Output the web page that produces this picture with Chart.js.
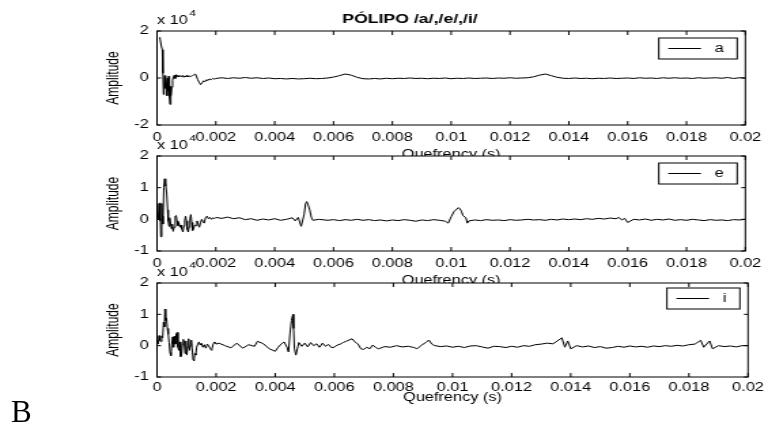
<!DOCTYPE html>
<html>
<head>
<meta charset="utf-8">
<script src="https://cdn.jsdelivr.net/npm/chart.js@4.4.0/dist/chart.umd.min.js"></script>
<style>
  body { margin: 0; background: #fff; }
  #fig { position: relative; width: 768px; height: 427px; overflow: hidden; }
  #fig canvas { position: absolute; left: 0; top: 0; }
  #panel { position: absolute; left: 11px; top: 396px; font: 31px "Liberation Serif", "Times New Roman", serif; line-height: 1; color: #000; }
</style>
</head>
<body>
<div id="fig">
  <canvas id="plotA" width="565" height="427" style="width:768px;height:427px"></canvas>
  <canvas id="plotE" width="565" height="427" style="width:768px;height:427px"></canvas>
  <canvas id="plotI" width="565" height="427" style="width:768px;height:427px"></canvas>
  <div id="panel">B</div>
</div>
<script>
// tick labels
const quefTicks = ['0', '0.002', '0.004', '0.006', '0.008', '0.01', '0.012', '0.014', '0.016', '0.018', '0.02'];
const ampTicksA = ['-2', '0', '2'];
const ampTicksEI = ['-1', '0', '1', '2'];
const vowels = ['a', 'e', 'i'];

// cepstrum per vowel: [quefrency (s), amplitude (x 10^4)]
const vowelA = [
  [0.00007, 1.72], [0.00010, 1.70], [0.00014, 1.40], [0.00018, 1.20], [0.00020, 0.20],
  [0.00022, -0.70], [0.00024, -0.20], [0.00026, 0.10], [0.00028, -0.45], [0.00030, 0.05],
  [0.00032, -0.20], [0.00034, -0.75], [0.00036, 0.00], [0.00038, -0.55], [0.00040, 0.08],
  [0.00042, -0.80], [0.00044, -1.12], [0.00046, -0.35], [0.00048, -0.75], [0.00050, -0.40],
  [0.00053, -0.10], [0.00056, 0.06], [0.00059, 0.12], [0.00062, -0.02], [0.00065, 0.14],
  [0.00068, 0.06], [0.00071, 0.12], [0.00075, 0.04], [0.00079, 0.10], [0.00083, 0.05],
  [0.00087, 0.11], [0.00091, 0.03], [0.00095, 0.09], [0.00099, 0.05], [0.00103, 0.12],
  [0.00107, 0.04], [0.00111, 0.09], [0.00115, 0.06], [0.00120, 0.10], [0.00125, 0.13],
  [0.00130, 0.17], [0.00134, 0.08], [0.00138, -0.06], [0.00143, -0.18], [0.00148, -0.28],
  [0.00153, -0.21], [0.00158, -0.12], [0.00163, -0.16], [0.00168, -0.07], [0.00173, -0.11],
  [0.00178, -0.04], [0.00184, -0.07], [0.00190, -0.02], [0.00196, -0.05], [0.0020, -0.02],
  [0.0022, 0.01], [0.0024, -0.02], [0.0026, 0.01], [0.0028, -0.01], [0.0030, 0.02],
  [0.0032, -0.01], [0.0034, 0.01], [0.0036, -0.02], [0.0038, 0.00], [0.0040, -0.03],
  [0.0042, -0.02], [0.0044, -0.04], [0.0046, -0.02], [0.0048, -0.04], [0.0050, -0.03],
  [0.0052, -0.01], [0.0054, -0.03], [0.0056, -0.02], [0.0058, 0.00], [0.0060, 0.04],
  [0.0062, 0.10], [0.0064, 0.17], [0.0066, 0.12], [0.0068, 0.03], [0.0070, -0.03],
  [0.0072, -0.04], [0.0074, -0.02], [0.0076, -0.04], [0.0078, -0.01], [0.0080, -0.03],
  [0.0082, -0.01], [0.0084, -0.02], [0.0086, 0.00], [0.0088, -0.02], [0.0090, -0.01],
  [0.0092, -0.03], [0.0094, -0.01], [0.0096, -0.02], [0.0098, 0.00], [0.0100, -0.03],
  [0.0102, -0.01], [0.0104, -0.02], [0.0106, 0.00], [0.0108, -0.02], [0.0110, -0.01],
  [0.0112, 0.00], [0.0114, -0.02], [0.0116, 0.00], [0.0118, -0.01], [0.0120, 0.01],
  [0.0122, -0.01], [0.0124, 0.00], [0.0126, 0.01], [0.0128, 0.05], [0.0130, 0.12],
  [0.0132, 0.17], [0.0134, 0.10], [0.0136, 0.03], [0.0138, -0.01], [0.0140, -0.02],
  [0.0142, 0.00], [0.0144, -0.02], [0.0146, -0.01], [0.0148, -0.03], [0.0150, -0.01],
  [0.0152, -0.02], [0.0154, 0.00], [0.0156, -0.02], [0.0158, -0.01], [0.0160, 0.00],
  [0.0162, -0.02], [0.0164, 0.01], [0.0166, -0.01], [0.0168, 0.00], [0.0170, -0.02],
  [0.0172, 0.01], [0.0174, -0.01], [0.0176, 0.01], [0.0178, -0.01], [0.0180, 0.00],
  [0.0182, -0.02], [0.0184, 0.01], [0.0186, -0.01], [0.0188, 0.00], [0.0190, 0.01],
  [0.0192, -0.01], [0.0194, 0.02], [0.0196, -0.02], [0.0198, 0.01], [0.0200, 0.00]
];

const vowelE = [
  [0.00004, -0.02], [0.00007, 0.50], [0.00009, -0.05], [0.00011, 0.52], [0.00013, -0.55],
  [0.00016, 0.50], [0.00018, 0.10], [0.00020, -0.15], [0.00023, 1.00], [0.00026, 1.28],
  [0.00028, 1.05], [0.00030, 1.15], [0.00033, 0.80], [0.00036, 0.30], [0.00038, -0.05],
  [0.00041, -0.22], [0.00043, 0.05], [0.00046, -0.12], [0.00049, -0.30], [0.00052, -0.15],
  [0.00055, -0.38], [0.00058, -0.25], [0.00062, 0.10], [0.00065, 0.12], [0.00068, -0.05],
  [0.00071, -0.20], [0.00074, -0.10], [0.00078, -0.25], [0.00081, -0.18], [0.00084, -0.30],
  [0.00088, -0.40], [0.00091, -0.22], [0.00094, -0.05], [0.00097, 0.10], [0.00100, -0.05],
  [0.00103, -0.32], [0.00106, -0.40], [0.00109, -0.25], [0.00112, 0.02], [0.00115, 0.15],
  [0.00118, -0.10], [0.00121, -0.35], [0.00124, -0.30], [0.00128, -0.18], [0.00132, -0.20],
  [0.00136, -0.05], [0.00140, -0.15], [0.00144, -0.25], [0.00148, -0.10], [0.00152, 0.00],
  [0.00156, -0.08], [0.00160, -0.12], [0.00165, 0.05], [0.00170, 0.10], [0.00175, 0.02],
  [0.00180, 0.06], [0.00185, 0.00], [0.00190, 0.05], [0.00195, 0.02], [0.0020, 0.06],
  [0.0022, 0.03], [0.0024, 0.07], [0.0026, 0.02], [0.0028, 0.05], [0.0030, -0.01],
  [0.0032, 0.02], [0.0034, -0.03], [0.0036, 0.01], [0.0038, -0.02], [0.0040, 0.02],
  [0.0042, -0.03], [0.0044, 0.00], [0.0046, 0.05], [0.0047, -0.05], [0.0048, 0.06],
  [0.0049, -0.22], [0.00500, 0.15], [0.00505, 0.50], [0.00509, 0.56], [0.00514, 0.45],
  [0.00519, 0.30], [0.00525, 0.05], [0.0053, -0.03], [0.0055, 0.00], [0.0058, -0.03],
  [0.0060, -0.01], [0.0062, -0.04], [0.0064, -0.01], [0.0066, -0.03], [0.0068, 0.00],
  [0.0070, -0.03], [0.0072, -0.01], [0.0074, -0.04], [0.0076, -0.02], [0.0078, -0.05],
  [0.0080, -0.02], [0.0082, -0.04], [0.0084, -0.01], [0.0086, -0.03], [0.0088, -0.06],
  [0.0090, -0.02], [0.0092, -0.04], [0.0094, -0.01], [0.0096, -0.03], [0.0098, -0.06],
  [0.0099, -0.12], [0.0100, 0.08], [0.0101, 0.25], [0.01025, 0.37], [0.0103, 0.33],
  [0.01035, 0.25], [0.0104, 0.12], [0.0105, 0.05], [0.01055, -0.12], [0.0106, -0.05],
  [0.0108, -0.02], [0.0110, -0.04], [0.0112, -0.01], [0.0114, -0.03], [0.0116, -0.02],
  [0.0118, -0.04], [0.0120, -0.01], [0.0122, -0.03], [0.0124, -0.02], [0.0126, 0.00],
  [0.0128, -0.02], [0.0130, -0.01], [0.0132, -0.03], [0.0134, 0.00], [0.0136, -0.02],
  [0.0138, 0.01], [0.0140, -0.01], [0.0142, 0.01], [0.0144, -0.01], [0.0146, 0.02],
  [0.0148, 0.00], [0.0150, 0.03], [0.0152, 0.01], [0.0154, 0.04], [0.0156, 0.02],
  [0.0157, 0.06], [0.0158, -0.02], [0.0159, 0.03], [0.0160, -0.10], [0.0162, 0.00],
  [0.0164, -0.02], [0.0166, 0.01], [0.0168, -0.03], [0.0170, 0.00], [0.0172, -0.02],
  [0.0174, 0.01], [0.0176, -0.03], [0.0178, -0.01], [0.0180, -0.03], [0.0182, 0.00],
  [0.0184, -0.02], [0.0186, -0.04], [0.0188, -0.01], [0.0190, -0.03], [0.0192, -0.02],
  [0.0194, -0.04], [0.0196, -0.01], [0.0198, -0.02], [0.0200, 0.00]
];

const vowelI = [
  [0.00004, 0.05], [0.00007, 0.32], [0.00010, 0.15], [0.00013, 0.13], [0.00016, 0.30],
  [0.00019, 0.25], [0.00022, 0.75], [0.00025, 0.60], [0.00027, 1.17], [0.00029, 0.80],
  [0.00032, 0.88], [0.00035, 0.55], [0.00038, 0.37], [0.00041, 0.10], [0.00044, -0.22],
  [0.00047, -0.32], [0.00050, 0.05], [0.00053, 0.28], [0.00056, -0.05], [0.00059, 0.30],
  [0.00062, 0.05], [0.00065, 0.38], [0.00068, 0.42], [0.00071, -0.05], [0.00074, -0.15],
  [0.00077, 0.12], [0.00080, -0.35], [0.00083, -0.30], [0.00086, 0.05], [0.00089, 0.20],
  [0.00092, 0.08], [0.00095, -0.25], [0.00098, 0.15], [0.00101, -0.30], [0.00104, -0.05],
  [0.00107, 0.22], [0.00110, -0.15], [0.00113, 0.00], [0.00116, 0.18], [0.00119, -0.10],
  [0.00122, -0.45], [0.00125, -0.48], [0.00128, -0.25], [0.00131, -0.30], [0.00134, -0.05],
  [0.00138, 0.05], [0.00142, 0.12], [0.00146, 0.02], [0.00150, 0.08], [0.00155, -0.05],
  [0.00160, 0.03], [0.00165, -0.08], [0.00170, 0.05], [0.00175, 0.00], [0.00180, -0.10],
  [0.00185, -0.15], [0.00190, 0.05], [0.00195, 0.12], [0.0020, 0.05],
  [0.0021, 0.08], [0.0023, 0.00], [0.0025, -0.07], [0.0027, 0.08], [0.0029, -0.08],
  [0.0031, 0.03], [0.0033, -0.02], [0.0034, 0.14], [0.0036, 0.06], [0.0038, -0.10],
  [0.0040, -0.18], [0.0041, -0.05], [0.0042, 0.05], [0.0043, 0.12], [0.0044, -0.05],
  [0.00445, -0.20], [0.0045, 0.40], [0.00455, 0.80], [0.0046, 1.00], [0.00462, 0.55],
  [0.00465, -0.10], [0.0047, -0.30], [0.0048, 0.10], [0.0049, -0.02], [0.0050, 0.08],
  [0.0051, -0.04], [0.0052, 0.10], [0.0053, 0.00], [0.0054, 0.06], [0.0055, -0.05],
  [0.0056, 0.08], [0.0057, -0.02], [0.0058, 0.04], [0.0059, -0.06], [0.0060, -0.05],
  [0.0061, 0.02], [0.0062, 0.05], [0.0063, 0.10], [0.0064, 0.14], [0.0066, 0.22],
  [0.0067, 0.12], [0.0068, 0.05], [0.0069, -0.10], [0.0070, -0.12], [0.0071, -0.05],
  [0.0072, -0.10], [0.0073, 0.02], [0.0074, -0.06], [0.0075, -0.10], [0.0077, -0.03],
  [0.0079, -0.05], [0.0081, 0.00], [0.0083, -0.04], [0.0085, -0.02], [0.0087, -0.06],
  [0.0088, -0.10], [0.0090, 0.05], [0.0091, 0.10], [0.0092, 0.18], [0.0093, 0.05],
  [0.0094, 0.00], [0.0096, -0.03], [0.0098, -0.01], [0.0100, -0.05], [0.0102, -0.02],
  [0.0104, -0.06], [0.0106, -0.01], [0.0108, 0.00], [0.0110, -0.04], [0.0112, -0.08],
  [0.0114, -0.02], [0.0116, -0.03], [0.0118, -0.06], [0.0120, -0.02], [0.0122, -0.05],
  [0.0124, 0.00], [0.0126, -0.02], [0.0128, 0.03], [0.0130, 0.05], [0.0132, 0.08],
  [0.0134, 0.06], [0.0135, 0.12], [0.0137, 0.25], [0.0138, -0.05], [0.0139, 0.15],
  [0.0140, -0.10], [0.0142, 0.00], [0.0144, -0.04], [0.0146, -0.01], [0.0148, -0.06],
  [0.0150, -0.03], [0.0152, -0.08], [0.0154, -0.06], [0.0156, -0.02], [0.0158, -0.05],
  [0.0160, -0.01], [0.0162, -0.04], [0.0164, -0.02], [0.0166, -0.05], [0.0168, -0.01],
  [0.0170, -0.03], [0.0172, 0.00], [0.0174, -0.02], [0.0176, 0.01], [0.0178, -0.01],
  [0.0180, 0.03], [0.0182, 0.05], [0.0184, 0.17], [0.0185, -0.05], [0.0187, 0.15],
  [0.0188, -0.10], [0.0190, 0.00], [0.0192, -0.03], [0.0194, -0.01], [0.0196, -0.04],
  [0.0198, 0.00], [0.0200, 0.00]
];

// canvases are 565 px wide and stretched to 768 px by css
const CW = 565;
const CH = 427;
const FONT = '"Liberation Sans", Arial, Helvetica, sans-serif';
const AX_LEFT = 115.5;
const AX_RIGHT = 550.3;
const PAD_LEFT = 76.3;

// matlab-style box: white face, frame, inward ticks, exponent and legend
const matlabAxes = {
  id: 'matlabAxes',
  beforeDraw(chart) {
    const { ctx, chartArea: a } = chart;
    ctx.save();
    ctx.fillStyle = '#fff';
    ctx.fillRect(a.left, a.top, a.right - a.left, a.bottom - a.top);
    ctx.restore();
  },
  afterDraw(chart, args, opts) {
    const { ctx, chartArea: a, scales: { x, y } } = chart;
    ctx.save();
    ctx.strokeStyle = '#000';
    ctx.lineWidth = 1;
    ctx.strokeRect(a.left, a.top, a.right - a.left, a.bottom - a.top);
    ctx.beginPath();
    x.ticks.forEach(t => {
      const px = x.getPixelForValue(t.value);
      ctx.moveTo(px, a.top); ctx.lineTo(px, a.top + 4);
      ctx.moveTo(px, a.bottom); ctx.lineTo(px, a.bottom - 4);
    });
    y.ticks.forEach(t => {
      const py = y.getPixelForValue(t.value);
      ctx.moveTo(a.left, py); ctx.lineTo(a.left + 3, py);
      ctx.moveTo(a.right, py); ctx.lineTo(a.right - 3, py);
    });
    ctx.stroke();

    // x 10^4 above the axes
    ctx.fillStyle = '#000';
    ctx.textAlign = 'left';
    ctx.textBaseline = 'middle';
    ctx.font = '12px ' + FONT;
    ctx.fillText('x 10', a.left, a.top - 10);
    const w = ctx.measureText('x 10').width;
    ctx.font = '9px ' + FONT;
    ctx.fillText('4', a.left + w + 1, a.top - 17);

    // legend
    const label = chart.data.datasets[0].label;
    ctx.font = '12px ' + FONT;
    const bw = 51 + ctx.measureText(label).width;
    const bh = 21;
    const bx = a.right - 6 - bw;
    const by = a.top + opts.legendTop;
    ctx.fillStyle = '#fff';
    ctx.fillRect(bx, by, bw, bh);
    ctx.strokeRect(bx, by, bw, bh);
    ctx.beginPath();
    ctx.moveTo(bx + 7, by + bh / 2);
    ctx.lineTo(bx + 31, by + bh / 2);
    ctx.stroke();
    ctx.fillStyle = '#000';
    ctx.fillText(label, bx + 41, by + bh / 2);

    if (opts.title) {
      ctx.font = 'bold 13px ' + FONT;
      ctx.textAlign = 'center';
      ctx.fillText(opts.title, 301.6, 19);
    }
    ctx.restore();
  }
};

function makePlot(id, label, points, yMin, yMax, yTicks, box) {
  return new Chart(document.getElementById(id), {
    type: 'line',
    data: {
      datasets: [{
        label: label,
        data: points.map(p => ({ x: p[0], y: p[1] })),
        borderColor: '#000',
        borderWidth: 1,
        pointRadius: 0,
        tension: 0,
        fill: false
      }]
    },
    options: {
      responsive: false,
      animation: false,
      devicePixelRatio: 1,
      layout: {
        padding: { left: PAD_LEFT, right: CW - AX_RIGHT, top: box.top, bottom: CH - box.bottom - box.xh }
      },
      plugins: {
        legend: { display: false },
        tooltip: { enabled: false },
        matlabAxes: { legendTop: box.legendTop, title: box.title }
      },
      scales: {
        x: {
          type: 'linear',
          min: 0,
          max: 0.02,
          grid: { display: false, drawTicks: false },
          border: { display: false },
          ticks: {
            stepSize: 0.002,
            autoSkip: false,
            maxRotation: 0,
            padding: box.tickPad,
            color: '#000',
            font: { family: FONT, size: 12 },
            callback: (v, i) => quefTicks[i]
          },
          title: { display: true, text: 'Quefrency (s)', color: '#000', padding: 0, font: { family: FONT, size: 12 } },
          afterFit: s => { s.height = box.xh; }
        },
        y: {
          min: yMin,
          max: yMax,
          grid: { display: false, drawTicks: false },
          border: { display: false },
          ticks: {
            stepSize: yTicks === ampTicksA ? 2 : 1,
            padding: 6,
            color: '#000',
            font: { family: FONT, size: 12 },
            callback: (v, i) => yTicks[i]
          },
          title: { display: true, text: 'Amplitude', color: '#000', padding: 0, font: { family: FONT, size: 12 } },
          afterFit: s => { s.width = AX_LEFT - PAD_LEFT; }
        }
      }
    },
    plugins: [matlabAxes]
  });
}

makePlot('plotA', vowels[0], vowelA, -2, 2, ampTicksA,
  { top: 31, bottom: 125, xh: 37, tickPad: 5, legendTop: 7, title: 'PÓLIPO /a/,/e/,/i/' });
makePlot('plotE', vowels[1], vowelE, -1, 2, ampTicksEI,
  { top: 156, bottom: 251, xh: 37, tickPad: 5, legendTop: 7 });
makePlot('plotI', vowels[2], vowelI, -1, 2, ampTicksEI,
  { top: 283, bottom: 377, xh: 28, tickPad: 3, legendTop: 5 });
</script>
</body>
</html>
